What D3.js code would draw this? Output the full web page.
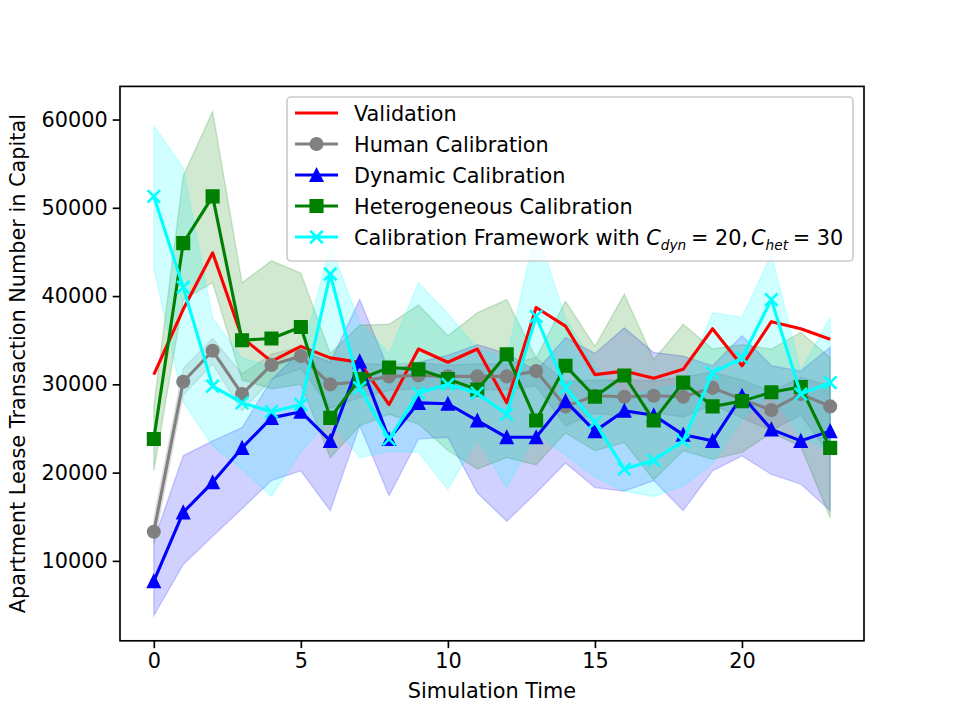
<!DOCTYPE html>
<html>
<head>
<meta charset="utf-8">
<script src="https://cdn.jsdelivr.net/npm/d3@7"></script>
<style>
  body { margin: 0; background: #fff; }
  svg { font-family: "DejaVu Sans", sans-serif; }
</style>
</head>
<body>
<div class="chart"></div>
<script>
// simulation steps 0..23
const steps = d3.range(24);

const validation = [31100, 38500, 44900, 35300, 32600, 34300, 33000, 32500, 27700, 34000, 32500, 34000, 27900, 38700, 36600, 31100, 31500, 30700, 31700, 36300, 32100, 37100, 36300, 35100];

const human   = [13300, 30300, 33800, 28900, 32200, 33200, 30000, 30300, 30900, 31000, 30900, 30900, 30900, 31500, 27500, 28700, 28600, 28700, 28600, 29600, 28300, 27100, 28900, 27500];
const humanHi = [14800, 31800, 35200, 31200, 33400, 34300, 32800, 32300, 32300, 32400, 32200, 32300, 32300, 33000, 30300, 30500, 30500, 30400, 30800, 31400, 30500, 29200, 30800, 29800];
const humanLo = [11800, 28800, 32300, 27000, 30600, 31800, 27300, 28500, 29300, 29500, 29500, 29400, 29400, 29800, 25300, 26700, 26400, 26800, 26300, 27700, 26200, 24800, 26500, 22000];

const dynamic   = [7700, 15500, 18900, 22800, 26200, 26900, 23600, 32600, 23800, 27900, 27800, 25900, 24000, 24000, 28100, 24700, 27000, 26500, 24300, 23600, 28700, 24900, 23600, 24700];
const dynamicHi = [12300, 21900, 23600, 25100, 30500, 33800, 32500, 39600, 31500, 32500, 33300, 34500, 33500, 31500, 35300, 33500, 36400, 33600, 33200, 32100, 35500, 32100, 31500, 34200];
const dynamicLo = [3800, 9600, 12800, 15900, 19100, 20200, 15700, 25300, 17400, 23800, 24000, 17700, 14500, 17700, 21100, 18300, 17900, 19100, 15700, 20200, 21900, 19800, 18700, 15700];

const hetero   = [23800, 46000, 51300, 35000, 35200, 36500, 26200, 30600, 31900, 31700, 30600, 29400, 33400, 25900, 32100, 28600, 31000, 25900, 30200, 27500, 28100, 29100, 29700, 22800];
const heteroHi = [27500, 53600, 60900, 41500, 44000, 42600, 33500, 36700, 36800, 39000, 35500, 38100, 39600, 33000, 39400, 34300, 40200, 32800, 36800, 34000, 34500, 34000, 35900, 33000];
const heteroLo = [20200, 39600, 41500, 30500, 29500, 30000, 21700, 25300, 26600, 25500, 22500, 20400, 21700, 20900, 24500, 22500, 23400, 19200, 22500, 21500, 22300, 24500, 23000, 14900];

const framework   = [51300, 41000, 29800, 27900, 26900, 27700, 42500, 29600, 23800, 29000, 30000, 29000, 26600, 37700, 29600, 25700, 20400, 21400, 23600, 31300, 33000, 39600, 28900, 30200];
const frameworkHi = [59300, 54500, 37500, 33000, 32000, 33000, 45700, 37000, 33500, 41500, 38000, 34000, 33000, 47700, 37500, 32000, 28500, 29500, 30000, 38100, 37600, 44700, 31500, 37600];
const frameworkLo = [43200, 28000, 23000, 20400, 17300, 22400, 26000, 21700, 22400, 22300, 18100, 23800, 18300, 24500, 22000, 19500, 17900, 17300, 18500, 21000, 26000, 29000, 24000, 22500];

const xTicks = [0, 5, 10, 15, 20];
const yTicks = [10000, 20000, 30000, 40000, 50000, 60000];

const W = 961, H = 721;
const margin = {top: 86.4, right: 97, bottom: 80.2, left: 120};
const fs = 20.8;

const svg = d3.select(".chart").append("svg")
    .attr("width", W)
    .attr("height", H);

const allVals = [].concat(validation, humanLo, humanHi, dynamicLo, dynamicHi, heteroLo, heteroHi, frameworkLo, frameworkHi);
const [vmin, vmax] = d3.extent(allVals);
const pad = (vmax - vmin) * 0.05;

const xScale = d3.scaleLinear()
    .domain([-1.15, 24.15])
    .range([margin.left, W - margin.right]);

const yScale = d3.scaleLinear()
    .domain([vmin - pad, vmax + pad])
    .range([H - margin.bottom, margin.top]);

// bands
const area = (lo, hi) => d3.area()
    .x(i => xScale(i))
    .y0(i => yScale(lo[i]))
    .y1(i => yScale(hi[i]))(steps);

const bands = [
    {lo: humanLo, hi: humanHi, color: "gray"},
    {lo: dynamicLo, hi: dynamicHi, color: "blue"},
    {lo: heteroLo, hi: heteroHi, color: "green"},
    {lo: frameworkLo, hi: frameworkHi, color: "cyan"}
];

svg.append("g")
    .selectAll("path")
    .data(bands)
    .join("path")
    .attr("d", d => area(d.lo, d.hi))
    .attr("fill", d => d.color)
    .attr("fill-opacity", 0.18)
    .attr("stroke", d => d.color)
    .attr("stroke-opacity", 0.18)
    .attr("stroke-width", 1.4);

// series
const series = [
    {name: "Validation", values: validation, color: "red", marker: null},
    {name: "Human Calibration", values: human, color: "gray", marker: "circle"},
    {name: "Dynamic Calibration", values: dynamic, color: "blue", marker: "triangle"},
    {name: "Heterogeneous Calibration", values: hetero, color: "green", marker: "square"},
    {name: "Calibration Framework", values: framework, color: "cyan", marker: "x"}
];

const ms = 12.5;
function markerPath(type) {
    const h = ms / 2;
    switch (type) {
        case "circle": return d3.symbol(d3.symbolCircle, Math.PI * h * h)();
        case "square": return `M${-h},${-h}H${h}V${h}H${-h}Z`;
        case "triangle": return `M0,${-h}L${-h},${h}L${h},${h}Z`;
        case "x": return `M${-h},${-h}L${h},${h}M${-h},${h}L${h},${-h}`;
    }
}

const line = vals => d3.line()
    .x(i => xScale(i))
    .y(i => yScale(vals[i]))(steps);

const sg = svg.append("g")
    .selectAll("g")
    .data(series)
    .join("g");

sg.append("path")
    .attr("d", d => line(d.values))
    .attr("fill", "none")
    .attr("stroke", d => d.color)
    .attr("stroke-width", 3.1)
    .attr("stroke-linejoin", "round");

sg.filter(d => d.marker)
    .selectAll(".mk")
    .data(d => d.values.map((v, i) => ({v, i, s: d})))
    .join("path")
    .attr("class", "mk")
    .attr("transform", d => `translate(${xScale(d.i)},${yScale(d.v)})`)
    .attr("d", d => markerPath(d.s.marker))
    .attr("fill", d => d.s.marker === "x" ? "none" : d.s.color)
    .attr("stroke", d => d.s.color)
    .attr("stroke-width", d => d.s.marker === "x" ? 2.6 : 1.6);

// axes
const xAxis = d3.axisBottom(xScale)
    .tickValues(xTicks)
    .tickSize(7.3)
    .tickPadding(5);

const yAxis = d3.axisLeft(yScale)
    .tickValues(yTicks)
    .tickFormat(d3.format("d"))
    .tickSize(7.3)
    .tickPadding(5);

svg.append("g")
    .attr("transform", `translate(0,${H - margin.bottom})`)
    .call(xAxis)
    .call(g => g.select(".domain").remove())
    .call(g => g.selectAll("line").attr("stroke-width", 1.67))
    .call(g => g.selectAll("text").attr("font-size", fs).attr("font-family", "DejaVu Sans").attr("fill", "#000"));

svg.append("g")
    .attr("transform", `translate(${margin.left},0)`)
    .call(yAxis)
    .call(g => g.select(".domain").remove())
    .call(g => g.selectAll("line").attr("stroke-width", 1.67))
    .call(g => g.selectAll("text").attr("font-size", fs).attr("font-family", "DejaVu Sans").attr("fill", "#000"));

// frame
svg.append("rect")
    .attr("x", margin.left)
    .attr("y", margin.top)
    .attr("width", W - margin.left - margin.right)
    .attr("height", H - margin.top - margin.bottom)
    .attr("fill", "none")
    .attr("stroke", "#000")
    .attr("stroke-width", 1.67);

// labels
svg.append("text")
    .attr("x", (margin.left + W - margin.right) / 2)
    .attr("y", 698)
    .attr("text-anchor", "middle")
    .attr("font-size", fs)
    .text("Simulation Time");

svg.append("text")
    .attr("transform", `translate(25,${(margin.top + H - margin.bottom) / 2}) rotate(-90)`)
    .attr("text-anchor", "middle")
    .attr("font-size", fs)
    .text("Apartment Lease Transaction Number in Capital");

// legend
const legend = svg.append("g");

legend.append("rect")
    .attr("x", 287)
    .attr("y", 97)
    .attr("width", 566)
    .attr("height", 164)
    .attr("rx", 4)
    .attr("fill", "#fff")
    .attr("fill-opacity", 0.8)
    .attr("stroke", "#cccccc")
    .attr("stroke-width", 1.67);

const li = legend.selectAll(".li")
    .data(series)
    .join("g")
    .attr("class", "li")
    .attr("transform", (d, i) => `translate(0,${113 + i * 31})`);

li.append("line")
    .attr("x1", 295).attr("x2", 338)
    .attr("stroke", d => d.color)
    .attr("stroke-width", 3.1);

li.filter(d => d.marker)
    .append("path")
    .attr("transform", "translate(316.5,0)")
    .attr("d", d => markerPath(d.marker))
    .attr("fill", d => d.marker === "x" ? "none" : d.color)
    .attr("stroke", d => d.color)
    .attr("stroke-width", d => d.marker === "x" ? 2.6 : 1.6);

const lt = li.append("text")
    .attr("x", 354)
    .attr("dy", "0.36em")
    .attr("font-size", fs);

lt.filter((d, i) => i < 4).text(d => d.name);

lt.filter((d, i) => i === 4).each(function() {
    const t = d3.select(this);
    t.append("tspan").text("Calibration Framework with ");
    t.append("tspan").attr("font-style", "italic").text("C");
    t.append("tspan").attr("font-style", "italic").attr("font-size", fs * 0.66).attr("dy", 5).text("dyn");
    t.append("tspan").attr("dy", -5).attr("dx", -2).text(" = 20,");
    t.append("tspan").attr("font-style", "italic").attr("dx", 3).text("C");
    t.append("tspan").attr("font-style", "italic").attr("font-size", fs * 0.66).attr("dy", 5).text("het");
    t.append("tspan").attr("dy", -5).attr("dx", -2).text(" = 30");
});
</script>
</body>
</html>
